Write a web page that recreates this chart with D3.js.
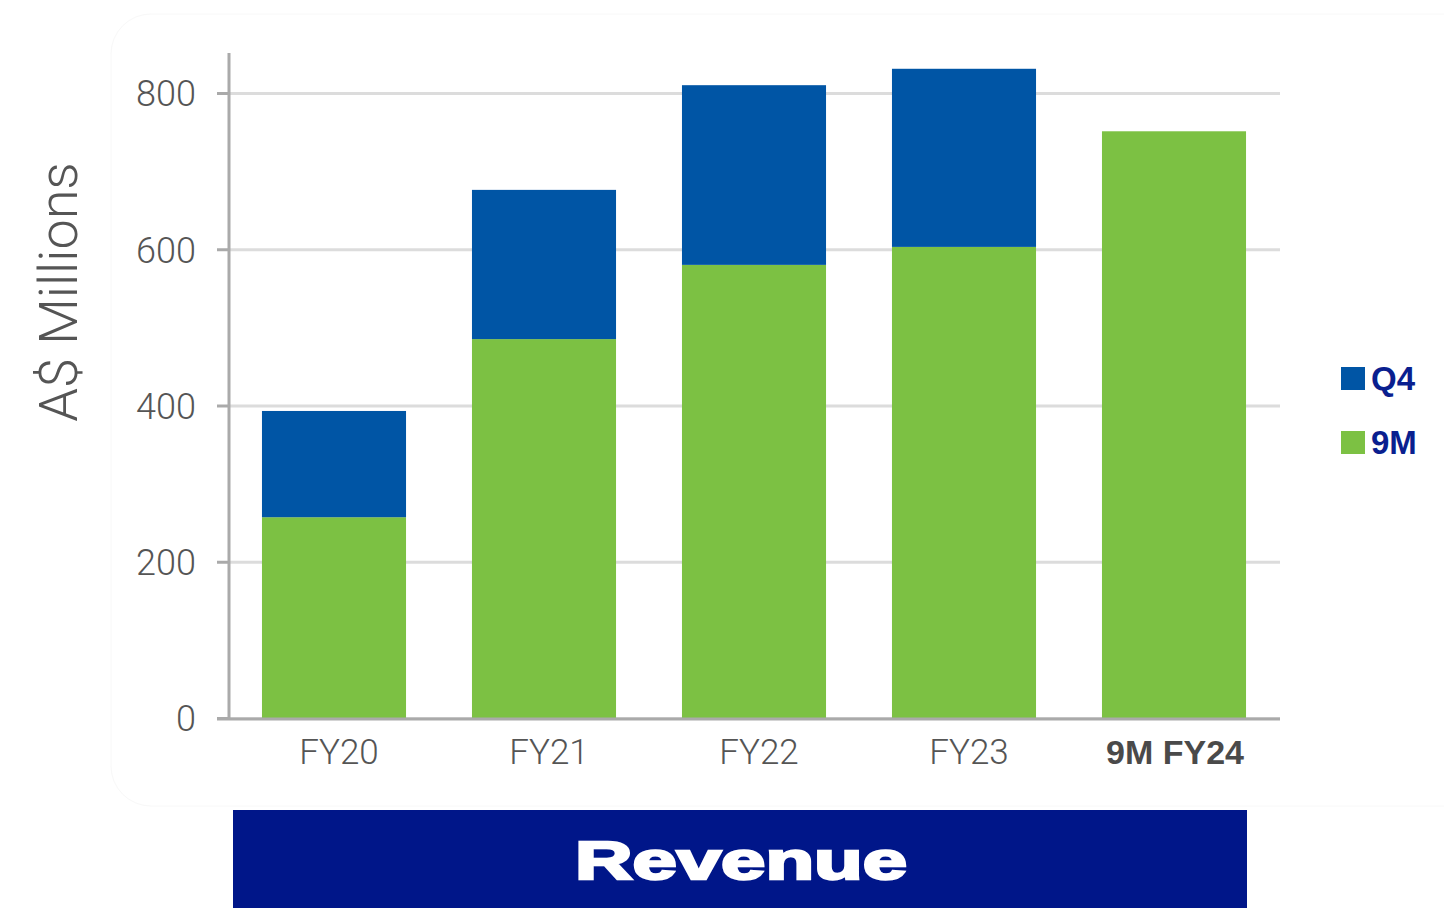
<!DOCTYPE html>
<html>
<head>
<meta charset="utf-8">
<script src="https://cdn.jsdelivr.net/npm/d3@7"></script>
<style>
  body { margin: 0; background: #fff; }
  svg { display: block; }
  .tick-label { font-family: Roboto, "Liberation Sans", sans-serif; font-weight: 300; fill: #555; }
</style>
</head>
<body>
<div class="chart-container"></div>
<script>
// Data
const categories = ['FY20', 'FY21', 'FY22', 'FY23', '9M FY24'];
const nineMonths = [257, 485, 580, 603, 751];
const fourthQuarter = [136, 191, 230, 228, 0];
const yTicks = [0, 200, 400, 600, 800];
const seriesNames = ['Q4', '9M'];

const width = 1444;
const height = 908;

const colors = { '9M': '#7cc143', 'Q4': '#0055a5' };

// Main
function ready() {
	const svg = d3
		.select('.chart-container')
		.append('svg')
		.attr('width', width)
		.attr('height', height);

	// faint rounded card behind the chart
	svg.append('rect')
		.attr('x', 111).attr('y', 14)
		.attr('width', 1380).attr('height', 792)
		.attr('rx', 40)
		.attr('fill', 'none')
		.attr('stroke', '#f8f8f8')
		.attr('stroke-width', 1);

	// Scales
	const xScale = d3.scaleBand()
		.domain(categories)
		.range([229, 1279])
		.paddingInner(0.314)
		.paddingOuter(0.157);

	const yScale = d3.scaleLinear()
		.domain([0, 800])
		.range([718, 93]);

	// gridlines
	const yAxis = d3.axisLeft(yScale)
		.tickValues(yTicks)
		.tickSizeInner(-(1280 - 229))
		.tickSizeOuter(0)
		.tickFormat(d3.format('d'));

	const yAxisDraw = svg.append('g')
		.attr('class', 'y axis')
		.attr('transform', 'translate(229, 0)')
		.call(yAxis);

	yAxisDraw.select('.domain').remove();
	yAxisDraw.selectAll('.tick line')
		.attr('stroke', '#dcdcdc')
		.attr('stroke-width', 3);
	yAxisDraw.selectAll('.tick text')
		.attr('class', 'tick-label')
		.attr('x', -33)
		.attr('dy', '0.36em')
		.style('font-size', '36px');

	// little outer tick marks
	yAxisDraw.selectAll('.tick')
		.append('line')
		.attr('x1', -12).attr('x2', 0)
		.attr('stroke', '#aaa')
		.attr('stroke-width', 3);

	// Stacked bars
	const stackData = categories.map((c, i) => ({ cat: c, '9M': nineMonths[i], 'Q4': fourthQuarter[i] }));
	const stack = d3.stack().keys(['9M', 'Q4'])(stackData);

	svg.append('g')
		.attr('class', 'bars')
		.selectAll('g')
		.data(stack)
		.join('g')
		.attr('fill', d => colors[d.key])
		.selectAll('rect')
		.data(d => d.filter(p => p[1] > p[0]))
		.join('rect')
		.attr('x', d => xScale(d.data.cat))
		.attr('width', xScale.bandwidth())
		.attr('y', d => yScale(d[1]))
		.attr('height', d => yScale(d[0]) - yScale(d[1]));

	// Axis lines
	svg.append('line')
		.attr('x1', 229).attr('x2', 229)
		.attr('y1', 53).attr('y2', 719)
		.attr('stroke', '#aaa')
		.attr('stroke-width', 3);

	const xAxis = d3.axisBottom(xScale).tickSize(0).tickSizeOuter(0);
	const xAxisDraw = svg.append('g')
		.attr('class', 'x axis')
		.attr('transform', 'translate(0, 718)')
		.call(xAxis);
	xAxisDraw.select('.domain').remove();
	svg.append('line')
		.attr('x1', 217).attr('x2', 1280)
		.attr('y1', 719).attr('y2', 719)
		.attr('stroke', '#aaa')
		.attr('stroke-width', 3);

	xAxisDraw.selectAll('.tick text')
		.attr('class', 'tick-label')
		.attr('y', 46)
		.attr('dy', 0)
		.attr('dx', d => d === '9M FY24' ? 1 : 5)
		.style('font-size', d => d === '9M FY24' ? '34px' : '35px')
		.style('font-weight', d => d === '9M FY24' ? 700 : 300)
		.style('font-family', d => d === '9M FY24' ? '"Liberation Sans", Arial, sans-serif' : null)
		.style('fill', d => d === '9M FY24' ? '#4a4a4a' : '#555');

	// Y axis title
	svg.append('text')
		.attr('transform', 'translate(77, 292) rotate(-90)')
		.attr('text-anchor', 'middle')
		.style('font-family', 'Roboto, "Liberation Sans", sans-serif')
		.style('font-weight', 300)
		.style('font-size', '54px')
		.style('fill', '#555')
		.text('A$ Millions');

	// Legend
	const legend = svg.append('g')
		.attr('class', 'legend')
		.attr('transform', 'translate(1341, 367)');

	const legendItem = legend.selectAll('g')
		.data(seriesNames)
		.join('g')
		.attr('transform', (d, i) => `translate(0, ${i * 64})`);

	legendItem.append('rect')
		.attr('width', 24)
		.attr('height', 23)
		.attr('fill', d => colors[d]);

	legendItem.append('text')
		.attr('x', 30)
		.attr('y', 23)
		.style('font-family', '"Liberation Sans", Arial, sans-serif')
		.style('font-weight', 700)
		.style('font-size', '33px')
		.style('fill', '#0a1f8f')
		.text(d => d);

	// Bottom banner
	svg.append('rect')
		.attr('x', 233).attr('y', 810)
		.attr('width', 1014).attr('height', 98)
		.attr('fill', '#001689');

	svg.append('text')
		.attr('x', 575)
		.attr('y', 879)
		.attr('textLength', 332)
		.attr('lengthAdjust', 'spacingAndGlyphs')
		.style('font-family', '"Liberation Sans", Arial, sans-serif')
		.style('font-weight', 700)
		.style('font-size', '53px')
		.style('fill', '#fff')
		.style('stroke', '#fff')
		.style('stroke-width', 2.5)
		.text('Revenue');
}

ready();
</script>
</body>
</html>
